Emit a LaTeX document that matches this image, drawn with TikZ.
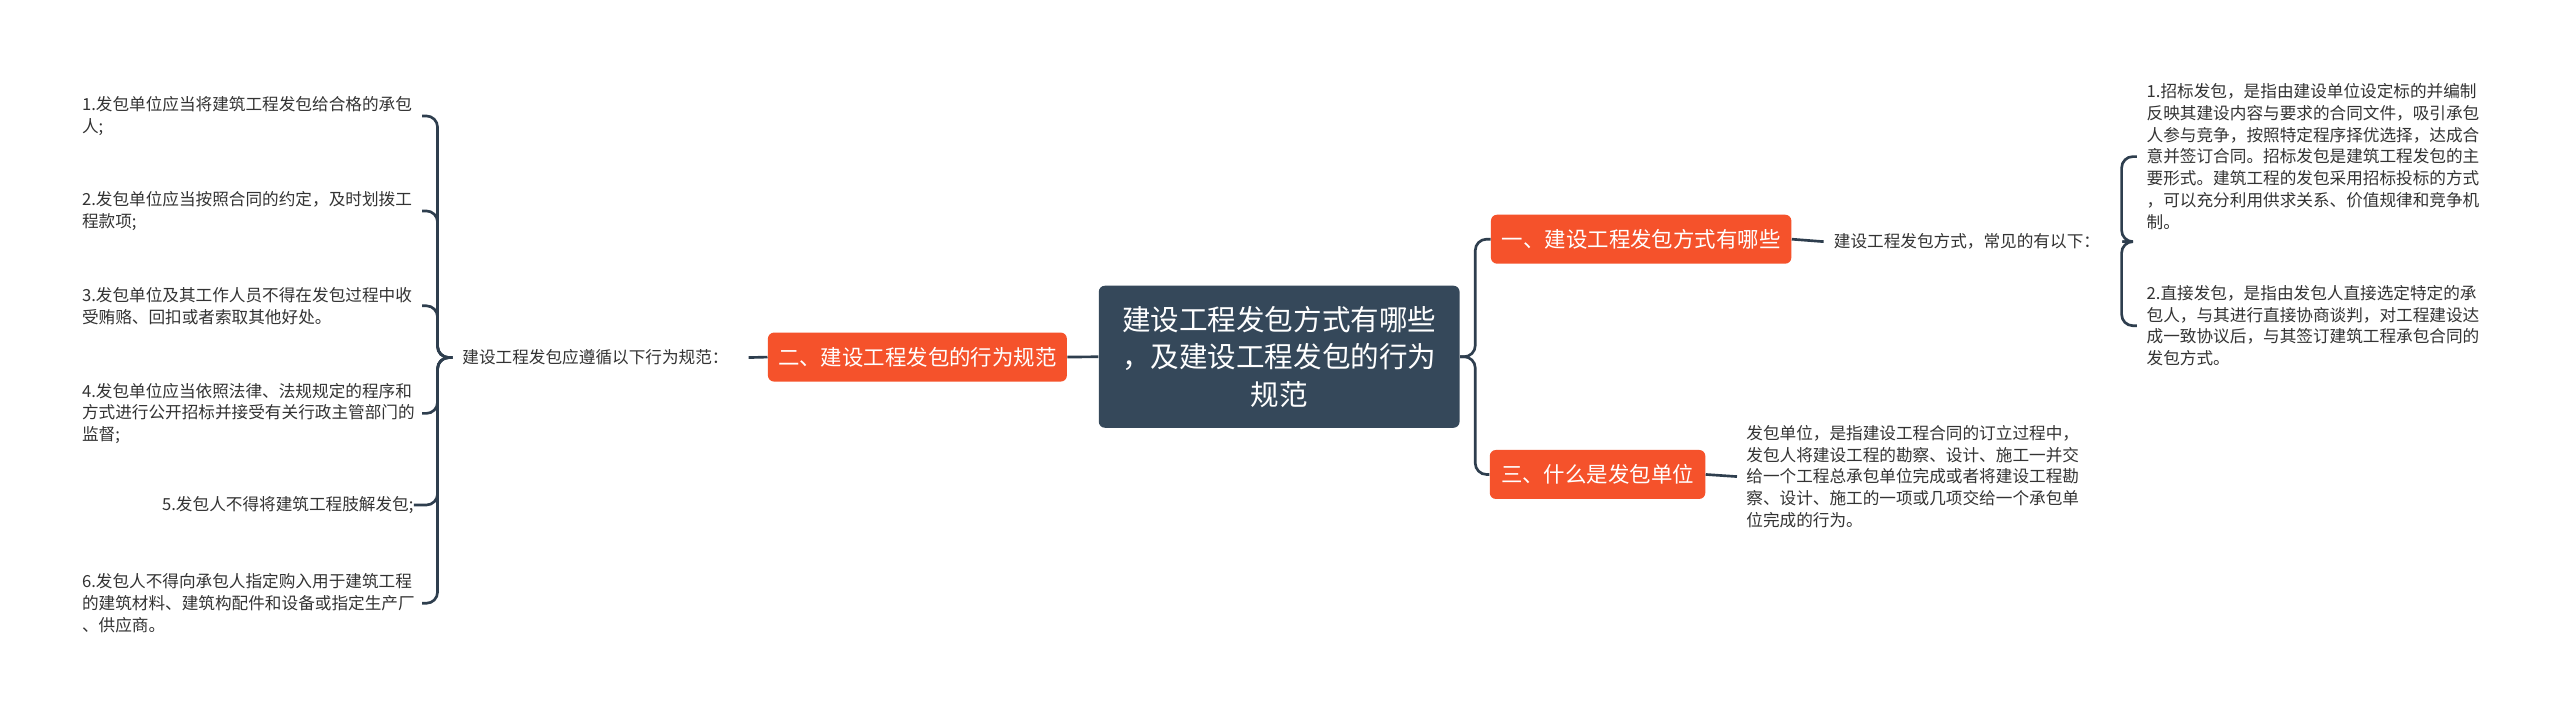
\documentclass[tikz,border=0pt]{standalone}
\usepackage{fontspec}
\setmainfont{Noto Sans CJK SC}
\definecolor{linec}{HTML}{2E3E4E}
\definecolor{orangec}{HTML}{F5522B}
\definecolor{centerc}{HTML}{35485A}
\definecolor{textc}{HTML}{333333}
\begin{document}
\begin{tikzpicture}[x=0.8pt,y=-0.8pt,
 conn/.style={draw=linec,line width=1.3pt,rounded corners=5.5pt},
 central/.style={fill=centerc,text=white,rounded corners=3pt,minimum width=176.8pt,minimum height=69.6pt,align=center,font=\fontsize{14}{18.4}\selectfont,inner sep=0pt},
 topic/.style={fill=orangec,text=white,rounded corners=3pt,minimum height=24pt,inner xsep=4.8pt,inner ysep=0pt,font=\fontsize{10.5}{12}\selectfont},
 leaf/.style={text=textc,font=\fontsize{8.15}{10.65}\selectfont,inner sep=0pt,text width=166.4pt,align=left},
 lab/.style={text=textc,font=\fontsize{8.15}{10.65}\selectfont,inner ysep=0pt,inner xsep=4.8pt},
]
\useasboundingbox[fill=white] (0,0) rectangle (1568,437);

% central and topics
\node[central] (c) at (783.5,218.5) {建设工程发包方式有哪些\\，及建设工程发包的行为\\规范};
\node[topic,minimum width=146.5pt] (t2) at (561.9,218.7) {二、建设工程发包的行为规范};
\node[topic,minimum width=147.2pt] (t1) at (1005.2,146.5) {一、建设工程发包方式有哪些};
\node[topic,minimum width=105.6pt] (t3) at (978.5,290.6) {三、什么是发包单位};

% left label and items
\node[lab,anchor=west] (lbl) at (277,219) {建设工程发包应遵循以下行为规范：};
\node[leaf,anchor=west] (l1) at (50,71) {1.发包单位应当将建筑工程发包给合格的承包\\人;};
\node[leaf,anchor=west] (l2) at (50,129.2) {2.发包单位应当按照合同的约定，及时划拨工\\程款项;};
\node[leaf,anchor=west] (l3) at (50,187.3) {3.发包单位及其工作人员不得在发包过程中收\\受贿赂、回扣或者索取其他好处。};
\node[leaf,anchor=west] (l4) at (50,253.2) {4.发包单位应当依照法律、法规规定的程序和\\方式进行公开招标并接受有关行政主管部门的\\监督;};
\node[leaf,anchor=west,align=right] (l5) at (45,309.3) {5.发包人不得将建筑工程肢解发包;};
\node[leaf,anchor=west] (l6) at (50,369.5) {6.发包人不得向承包人指定购入用于建筑工程\\的建筑材料、建筑构配件和设备或指定生产厂\\、供应商。};

% right label and items
\node[lab,anchor=west] (rl) at (1117,148) {建设工程发包方式，常见的有以下：};
\node[leaf,anchor=west] (r1) at (1314.6,95.9) {1.招标发包，是指由建设单位设定标的并编制\\反映其建设内容与要求的合同文件，吸引承包\\人参与竞争，按照特定程序择优选择，达成合\\意并签订合同。招标发包是建筑工程发包的主\\要形式。建筑工程的发包采用招标投标的方式\\，可以充分利用供求关系、价值规律和竞争机\\制。};
\node[leaf,anchor=west] (r2) at (1314.6,199.5) {2.直接发包，是指由发包人直接选定特定的承\\包人，与其进行直接协商谈判，对工程建设达\\成一致协议后，与其签订建筑工程承包合同的\\发包方式。};
\node[leaf,anchor=west] (n3t) at (1069.4,291.9) {发包单位，是指建设工程合同的订立过程中，\\发包人将建设工程的勘察、设计、施工一并交\\给一个工程总承包单位完成或者将建设工程勘\\察、设计、施工的一项或几项交给一个承包单\\位完成的行为。};

% junctions
\coordinate (cb) at (903.6,218.5);
\coordinate (lb) at (268,219);
\coordinate (rb) at (1299.5,148);

% connectors
\draw[conn] (c.west) -- (t2.east);
\draw[conn] (c.east) -- (cb) |- (t1.west);
\draw[conn] (c.east) -- (cb) |- (t3.west);
\draw[conn] (t2.west) -- ([xshift=4.8pt]lbl.east);
\foreach \n in {l1,l2,l3,l4,l5,l6}{
  \draw[conn] (lbl.west) -- (lb) |- (\n.east);
}
\draw[conn] (t1.east) -- (rl.west);
\foreach \n in {r1,r2}{
  \draw[conn] ([xshift=6pt]rl.east) -- (rb) |- ([xshift=-4.6pt]\n.west);
}
\draw[conn] (t3.east) -- ([xshift=-4.4pt]n3t.west);
\end{tikzpicture}
\end{document}
